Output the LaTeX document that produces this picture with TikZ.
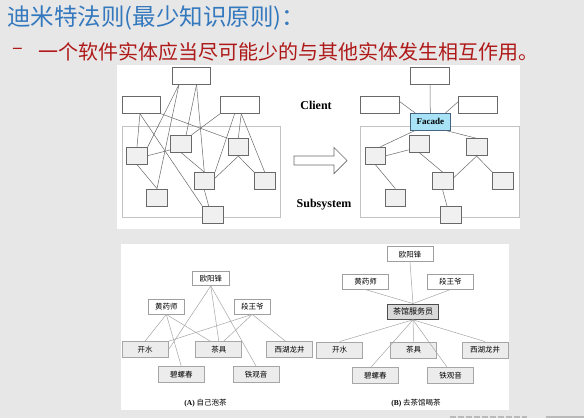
\documentclass[tikz,border=0pt]{standalone}
\usepackage{fontspec}
\setmainfont{Liberation Serif}
\newfontfamily\cjk{Noto Sans CJK SC}
\usetikzlibrary{positioning}

\definecolor{titleblue}{RGB}{52,120,190}
\definecolor{rulered}{RGB}{175,25,25}
\definecolor{bggray}{RGB}{231,231,231}
\definecolor{edgegray}{RGB}{105,105,105}
\definecolor{framegray}{RGB}{195,195,195}
\definecolor{boxfill}{RGB}{240,240,240}
\definecolor{teafill}{RGB}{236,236,236}
\definecolor{facadeblue}{RGB}{168,226,246}
\definecolor{facadeedge}{RGB}{70,100,130}

\begin{document}
\begin{tikzpicture}[
    x=1pt, y=-1pt,
    client/.style={rectangle, draw=edgegray, fill=white, line width=0.8pt, minimum width=38.5pt, minimum height=16.7pt, inner sep=0pt},
    subbox/.style={rectangle, draw=edgegray, fill=boxfill, line width=0.8pt, minimum width=20.6pt, minimum height=17pt, inner sep=0pt},
    facade/.style={rectangle, draw=facadeedge, fill=facadeblue, line width=0.8pt, minimum width=39.3pt, minimum height=16.7pt, inner sep=0pt, font=\bfseries\fontsize{9}{10}\selectfont},
    frame/.style={draw=framegray, line width=0.8pt},
    link/.style={draw=edgegray, line width=0.5pt},
    label/.style={font=\bfseries\fontsize{12}{14}\selectfont},
    person/.style={rectangle, draw=gray!75, fill=white, line width=0.6pt, minimum width=46pt, minimum height=15pt, inner sep=0pt, font=\cjk\fontsize{7.5}{8}\selectfont},
    tea/.style={person, fill=teafill, draw=gray!70, line width=0.9pt, minimum height=16pt},
    waiter/.style={tea, fill=gray!30, draw=gray!60!black, minimum width=50.7pt, minimum height=15.3pt, font=\cjk\fontsize{8}{9}\selectfont},
    tealink/.style={draw=gray!70, line width=0.5pt},
    caption/.style={font=\fontsize{7.5}{9}\selectfont}
]
    \fill[bggray] (0,0) rectangle (584,418);
    \useasboundingbox (0,0) rectangle (584,418);

    % heading
    \node[anchor=west, inner sep=0pt, text=titleblue, font=\cjk\fontsize{23.5}{26}\selectfont] (title) at (7,17.8) {迪米特法则(最少知识原则)：};
    \node[anchor=west, inner sep=0pt, text=rulered, font=\cjk\fontsize{20}{22}\selectfont] (dash) at (12,51.5) {–};
    \node[anchor=west, inner sep=0pt, text=rulered, font=\cjk\fontsize{20}{22}\selectfont] (rule) at (38,51.5) {一个软件实体应当尽可能少的与其他实体发生相互作用。};

    % panels
    \fill[white] (117,65) rectangle (520,229);
    \fill[white] (121,244) rectangle (509,410);
    \draw[frame] (122.3,126) rectangle (280.7,217.3);
    \draw[frame] (360.7,126) rectangle (519.3,217.3);

    % without facade
    \node[client] (cT) at (191.5,75.7) {};
    \node[client] (cL) at (141.5,105) {};
    \node[client] (cR) at (239.7,105) {};
    \node[subbox] (sA) at (137,155.7) {};
    \node[subbox] (sB) at (181,143.7) {};
    \node[subbox] (sC) at (238.3,147.2) {};
    \node[subbox] (sD) at (204.3,181) {};
    \node[subbox] (sE) at (264.7,181) {};
    \node[subbox] (sF) at (157,197.5) {};
    \node[subbox] (sG) at (212.8,214.7) {};

    \path[link] (cT.-145) -- (sA.north east);
    \path[link] (cT.-145) -- (sF.north);
    \path[link] (cT.-60) -- (sB.60);
    \path[link] (cT.-60) -- (sD.north);
    \path[link] (cL.-100) -- (sA.north);
    \path[link] (cL.-100) -- (sG.north west);
    \path[link] (cL.south east) -- (sC.north west);
    \path[link] (cR.south west) -- (sB.north east);
    \path[link] (cR.-120) -- (sD.north east);
    \path[link] (cR.-80) -- (sC.north);
    \path[link] (cR.-80) -- (sE.north);
    \path[link] (sA.east) -- (sB.-150);
    \path[link] (sA.south) -- (sF.north);
    \path[link] (sB.south) -- (sD.north);
    \path[link] (sD.15) -- (sC.south);
    \path[link] (sC.south) -- (sE.north west);
    \path[link] (sD.south) -- (sG.115);

    % arrow and labels
    \draw[draw=edgegray, fill=white, line width=0.7pt] (294,156) -- (334,156) -- (334,147.5) -- (347,160.5) -- (334,173.5) -- (334,165) -- (294,165) -- cycle;
    \node[label] (client) at (316,105) {Client};
    \node[label] (subsys) at (324,205) {Subsystem};

    % with facade
    \node[client] (fT) at (430,75.7) {};
    \node[client] (fL) at (380,105) {};
    \node[client] (fR) at (478,105) {};
    \node[facade] (fac) at (430.3,121.7) {Facade};
    \node[subbox] (tA) at (375.3,155.7) {};
    \node[subbox] (tB) at (419.3,143.7) {};
    \node[subbox] (tC) at (476.6,147.2) {};
    \node[subbox] (tD) at (442.6,181) {};
    \node[subbox] (tE) at (503,181) {};
    \node[subbox] (tF) at (395.3,197.5) {};
    \node[subbox] (tG) at (451.1,214.7) {};

    \path[link] (fT.south) -- (fac.north);
    \path[link] (fL.10) -- (fac.150);
    \path[link] (fR.170) -- (fac.30);
    \path[link] (fac.-150) -- (tA.60);
    \path[link] (fac.-30) -- (tC.north);
    \path[link] (tA.east) -- (tB.-150);
    \path[link] (tA.south) -- (tF.north);
    \path[link] (tB.south) -- (tD.north);
    \path[link] (tD.15) -- (tC.south);
    \path[link] (tC.south) -- (tE.north west);
    \path[link] (tD.south) -- (tG.115);

    % (A)
    \node[person, minimum width=37pt, minimum height=14.7pt] (aOy) at (210.8,278.3) {欧阳锋};
    \node[person, minimum width=36pt, minimum height=14.7pt] (aHy) at (166.3,306.7) {黄药师};
    \node[person, minimum width=36.7pt, minimum height=14.7pt] (aDw) at (252.3,306.7) {段王爷};
    \node[tea] (aKs) at (145,349.7) {开水};
    \node[tea] (aCj) at (218.8,349.7) {茶具};
    \node[tea] (aXh) at (289.5,349.7) {西湖龙井};
    \node[tea] (aBl) at (181.3,374.7) {碧螺春};
    \node[tea] (aTg) at (256.2,374.7) {铁观音};
    \node[caption] (capA) at (205.5,403) {\textbf{(A)} {\cjk 自己泡茶}};

    \path[tealink] (aOy.south) -- (aKs.east);
    \path[tealink] (aOy.south) -- (aCj.north);
    \path[tealink] (aOy.south) -- (aTg.north);
    \path[tealink] (aHy.south) -- (aKs.north);
    \path[tealink] (aHy.south) -- (aBl.north);
    \path[tealink] (aHy.south) -- (aCj.135);
    \path[tealink] (aDw.south) -- (aKs.north east);
    \path[tealink] (aDw.south) -- (aCj.60);
    \path[tealink] (aDw.south) -- (aXh.115);

    % (B)
    \node[person] (bOy) at (410,254.2) {欧阳锋};
    \node[person] (bHy) at (365.5,281.8) {黄药师};
    \node[person] (bDw) at (450.3,281.8) {段王爷};
    \node[waiter] (bFw) at (413,311.7) {茶馆服务员};
    \node[tea] (bKs) at (339.7,350) {开水};
    \node[tea] (bCj) at (413.7,350) {茶具};
    \node[tea] (bXh) at (485,350) {西湖龙井};
    \node[tea] (bBl) at (375.3,375.2) {碧螺春};
    \node[tea] (bTg) at (450.7,375.2) {铁观音};
    \node[caption] (capB) at (416,403) {\textbf{(B)} {\cjk 去茶馆喝茶}};

    \path[tealink] (bOy.south) -- (bFw.north);
    \path[tealink] (bHy.south) -- (bFw.north);
    \path[tealink] (bDw.south) -- (bFw.north);
    \path[tealink] (bFw.south) -- (bKs.north);
    \path[tealink] (bFw.south) -- (bBl.115);
    \path[tealink] (bFw.south) -- (bCj.north);
    \path[tealink] (bFw.south) -- (bTg.115);
    \path[tealink] (bFw.south) -- (bXh.north);

    % cut-off strip at the bottom edge
    \draw[gray!55, line width=2pt, dash pattern=on 6pt off 2pt] (450,417) -- (527,417);
    \draw[gray!55, line width=2pt] (546,417) -- (584,417);
\end{tikzpicture}
\end{document}
